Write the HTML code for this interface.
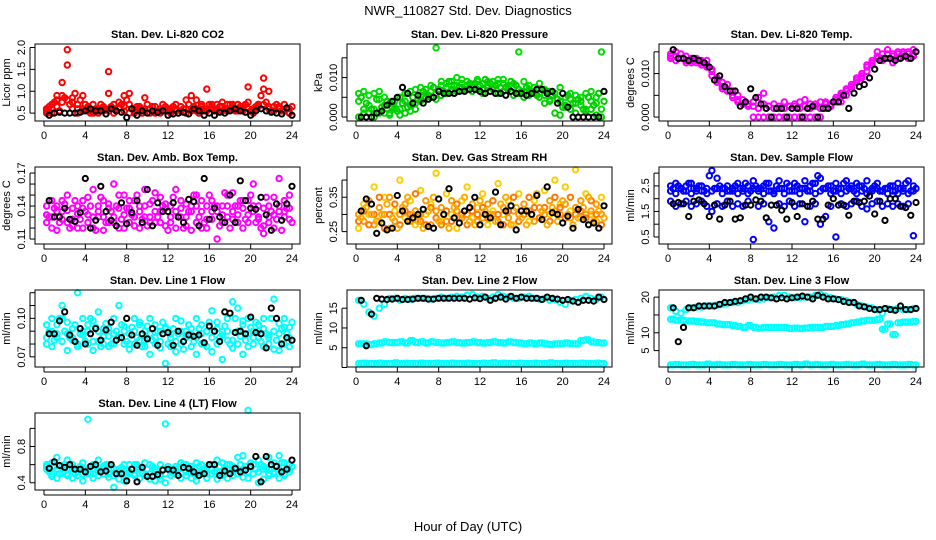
<!DOCTYPE html>
<html><head><meta charset="utf-8"><style>
html,body{margin:0;padding:0;background:#fff;}
svg{display:block;font-family:"Liberation Sans",Arial,sans-serif;}
</style></head><body>
<svg id="chart" width="936" height="540" viewBox="0 0 936 540">
<text x="468" y="15" text-anchor="middle" font-size="13">NWR_110827  Std. Dev. Diagnostics</text>
<text x="468" y="531" text-anchor="middle" font-size="13">Hour of Day (UTC)</text>
</svg>
<script>
const hoursC=[0.25,0.75,1.25,1.75,2.25,2.75,3.25,3.75,4.25,4.75,5.25,5.75,6.25,6.75,7.25,7.75,8.25,8.75,9.25,9.75,10.25,10.75,11.25,11.75,12.25,12.75,13.25,13.75,14.25,14.75,15.25,15.75,16.25,16.75,17.25,17.75,18.25,18.75,19.25,19.75,20.25,20.75,21.25,21.75,22.25,22.75,23.25,23.75];
const hoursB=[0.5,1,1.5,2,2.5,3,3.5,4,4.5,5,5.5,6,6.5,7,7.5,8,8.5,9,9.5,10,10.5,11,11.5,12,12.5,13,13.5,14,14.5,15,15.5,16,16.5,17,17.5,18,18.5,19,19.5,20,20.5,21,21.5,22,22.5,23,23.5,24];
const xTicks=[0,4,8,12,16,20,24];

const co2C1=[0.55,0.6,0.8,0.9,1.95,0.85,0.7,0.6,0.65,0.55,0.6,0.55,1.45,0.7,0.6,0.55,0.95,0.6,0.55,0.6,0.5,0.55,0.6,0.55,0.6,0.55,0.65,0.5,0.6,0.8,0.6,1.05,0.65,0.6,0.55,0.7,0.6,0.6,0.65,1.1,0.6,0.7,1.3,1.0,0.65,0.6,0.55,0.5];
const co2C2=[0.5,0.7,0.9,1.2,1.6,0.75,0.6,0.9,0.55,0.7,0.5,0.6,0.95,0.6,0.75,0.9,0.7,0.5,0.65,0.85,0.6,0.5,0.55,0.65,0.55,0.7,0.55,0.8,0.9,0.55,0.65,0.6,0.7,0.55,0.75,0.6,0.7,0.55,0.6,0.75,0.5,0.7,1.05,0.65,0.55,0.6,0.7,0.6];
const co2C3=[0.6,0.5,0.65,0.75,0.8,0.6,0.5,0.55,0.6,0.5,0.55,0.65,0.55,0.5,0.6,0.65,0.5,0.55,0.6,0.55,0.6,0.65,0.5,0.55,0.5,0.6,0.55,0.6,0.55,0.6,0.7,0.55,0.6,0.7,0.65,0.55,0.65,0.7,0.55,0.6,0.55,0.65,0.7,0.6,0.55,0.65,0.55,0.5];
const co2C4=[0.65,0.75,0.55,0.85,0.7,0.95,0.8,0.7,0.5,0.6,0.7,0.6,0.65,0.55,0.7,0.8,0.6,0.65,0.5,0.7,0.65,0.55,0.7,0.6,0.65,0.5,0.6,0.7,0.65,0.5,0.55,0.7,0.55,0.65,0.6,0.7,0.55,0.65,0.7,0.55,0.65,0.9,0.75,0.55,0.7,0.55,0.6,0.65];
const co2B=[0.45,0.5,0.52,0.5,0.5,0.5,0.52,0.55,0.6,0.55,0.55,0.48,0.6,0.55,0.52,0.4,0.6,0.45,0.55,0.5,0.55,0.52,0.55,0.45,0.48,0.5,0.52,0.48,0.6,0.55,0.45,0.5,0.45,0.52,0.5,0.55,0.6,0.55,0.52,0.45,0.55,0.6,0.55,0.52,0.5,0.48,0.62,0.45];

const presC1=[0.006,0.0065,0.0055,0.006,0.0045,0.005,0.0035,0.004,0.005,0.006,0.0065,0.007,0.0075,0.007,0.008,0.0175,0.009,0.0085,0.009,0.01,0.0095,0.009,0.008,0.0095,0.0085,0.008,0.009,0.0095,0.0085,0.008,0.0085,0.0165,0.009,0.008,0.0075,0.0085,0.007,0.0065,0.006,0.0075,0.005,0.006,0.0055,0.005,0.006,0.0065,0.005,0.0165];
const presC2=[0,0.002,0.001,0,0.001,0.003,0.001,0.002,0.0005,0.001,0.003,0.002,0.004,0.005,0.005,0.006,0.0055,0.006,0.007,0.0065,0.0075,0.007,0.0065,0.007,0.007,0.0075,0.007,0.006,0.0065,0.0075,0.0055,0.006,0.005,0.0055,0.006,0.005,0.0035,0.004,0.001,0.0005,0.003,0.002,0.001,0.004,0.0015,0.002,0.0005,0];
const presC3=[0.004,0.001,0.003,0.002,0.0065,0.001,0.0005,0.0025,0.002,0.004,0.0015,0.0035,0.0055,0.006,0.0065,0.0045,0.008,0.0075,0.0065,0.008,0.0085,0.008,0.0075,0.009,0.006,0.009,0.0075,0.0085,0.0095,0.007,0.0075,0.007,0.0065,0.007,0.0065,0.006,0.0055,0.0045,0.006,0.004,0.0025,0.0045,0.0035,0.003,0.002,0.004,0.0035,0.002];
const presC4=[0.005,0.0035,0.002,0.0045,0.0025,0.004,0.0025,0.0015,0.0035,0.0025,0.005,0.0045,0.0065,0.0055,0.0075,0.007,0.0065,0.009,0.008,0.0075,0.007,0.0085,0.0085,0.008,0.0095,0.0085,0.008,0.0075,0.0075,0.009,0.008,0.0065,0.0075,0.0065,0.0055,0.007,0.0065,0.0055,0.0045,0.0025,0.0055,0.0035,0.0045,0.002,0.005,0.003,0.006,0.004];
const presB=[0,0,0,0.001,0.0015,0.003,0.004,0.005,0.0075,0.006,0.0035,0.0055,0.0035,0.0045,0.005,0.0065,0.006,0.006,0.006,0.0065,0.0065,0.007,0.007,0.0065,0.006,0.0065,0.006,0.006,0.0055,0.0065,0.006,0.006,0.0055,0.006,0.007,0.007,0.006,0.0065,0.0035,0.006,0.0025,0,0,0,0,0,0,0.0065];

const tempC1=[0.0145,0.015,0.0145,0.014,0.0135,0.0135,0.013,0.013,0.011,0.009,0.008,0.0075,0.006,0.005,0.004,0.003,0.0035,0.0045,0.003,0.0025,0.003,0.0025,0.0035,0.0025,0.003,0.0035,0.0025,0.003,0.003,0.0035,0.0035,0.003,0.0045,0.0055,0.0065,0.0075,0.009,0.01,0.012,0.013,0.015,0.0145,0.0155,0.0145,0.015,0.0145,0.015,0.0155];
const tempC2=[0.0135,0.013,0.0135,0.0125,0.013,0.0125,0.012,0.0115,0.0095,0.008,0.0065,0.006,0.005,0.004,0.003,0.0025,0,0,0,0,0,0,0,0,0,0,0,0,0,0,0.002,0.0025,0.0035,0.0035,0.005,0.0065,0.008,0.009,0.0105,0.012,0.0135,0.013,0.0135,0.0125,0.0135,0.014,0.0135,0.014];
const tempC3=[0.014,0.014,0.0135,0.013,0.0125,0.013,0.0125,0.012,0.0105,0.0085,0.007,0.006,0.0045,0.0035,0.003,0.003,0.0025,0.002,0.0055,0.0025,0.002,0.002,0.002,0.0025,0.0025,0.002,0.004,0.002,0.0025,0.002,0.003,0.0025,0.004,0.005,0.006,0.007,0.0085,0.0095,0.0115,0.0125,0.014,0.0135,0.0145,0.014,0.0145,0.015,0.0145,0.0145];
const tempB=[0.0155,0.0135,0.0135,0.013,0.0135,0.013,0.0125,0.0115,0.0085,0.0095,0.007,0.006,0.006,0.0025,0.0035,0.0065,0.0045,0.003,0.002,0,0.002,0.002,0,0.002,0.002,0,0.002,0.0025,0,0.002,0.002,0.0035,0.0035,0.005,0.002,0.0055,0.007,0.0075,0.009,0.011,0.013,0.0135,0.0135,0.013,0.0135,0.014,0.0135,0.015];

const ambC1=[0.125,0.145,0.118,0.135,0.15,0.128,0.14,0.12,0.132,0.155,0.13,0.145,0.125,0.16,0.138,0.12,0.145,0.13,0.14,0.155,0.125,0.135,0.148,0.122,0.14,0.155,0.13,0.142,0.118,0.15,0.135,0.128,0.145,0.11,0.14,0.13,0.152,0.125,0.138,0.145,0.16,0.13,0.122,0.14,0.148,0.165,0.135,0.15];
const ambC2=[0.14,0.12,0.135,0.145,0.125,0.138,0.12,0.145,0.125,0.13,0.14,0.118,0.142,0.13,0.12,0.15,0.125,0.145,0.12,0.13,0.142,0.152,0.125,0.138,0.13,0.12,0.145,0.13,0.14,0.125,0.145,0.12,0.135,0.14,0.125,0.15,0.128,0.14,0.12,0.132,0.135,0.14,0.115,0.13,0.12,0.135,0.145,0.128];
const ambC3=[0.132,0.13,0.14,0.128,0.136,0.122,0.133,0.138,0.148,0.12,0.135,0.13,0.138,0.125,0.15,0.132,0.138,0.122,0.135,0.14,0.13,0.125,0.135,0.142,0.125,0.135,0.138,0.122,0.135,0.14,0.12,0.14,0.128,0.135,0.132,0.14,0.135,0.132,0.145,0.125,0.14,0.128,0.138,0.125,0.132,0.14,0.13,0.138];
const ambC4=[0.13,0.138,0.125,0.142,0.12,0.145,0.128,0.135,0.14,0.118,0.148,0.125,0.135,0.14,0.128,0.138,0.132,0.15,0.128,0.122,0.145,0.13,0.14,0.118,0.148,0.13,0.12,0.135,0.15,0.13,0.125,0.15,0.14,0.122,0.152,0.12,0.14,0.145,0.128,0.15,0.125,0.12,0.148,0.135,0.128,0.118,0.138,0.125];
const ambB=[0.145,0.13,0.13,0.138,0.128,0.126,0.134,0.165,0.12,0.127,0.158,0.135,0.127,0.122,0.143,0.124,0.134,0.145,0.125,0.155,0.122,0.143,0.135,0.135,0.143,0.13,0.125,0.146,0.144,0.122,0.165,0.128,0.138,0.13,0.125,0.15,0.125,0.163,0.145,0.138,0.137,0.148,0.132,0.118,0.142,0.127,0.142,0.158];

const rhC1=[0.26,0.33,0.3,0.38,0.28,0.35,0.26,0.31,0.4,0.29,0.34,0.27,0.37,0.3,0.33,0.42,0.28,0.36,0.3,0.26,0.34,0.38,0.29,0.32,0.36,0.27,0.31,0.39,0.3,0.34,0.27,0.36,0.3,0.28,0.34,0.29,0.37,0.3,0.4,0.33,0.38,0.31,0.43,0.29,0.36,0.3,0.28,0.35];
const rhC2=[0.3,0.28,0.34,0.27,0.32,0.3,0.35,0.28,0.3,0.33,0.28,0.31,0.3,0.34,0.27,0.31,0.32,0.28,0.34,0.31,0.29,0.3,0.33,0.28,0.29,0.33,0.3,0.28,0.32,0.29,0.31,0.3,0.33,0.31,0.28,0.32,0.3,0.34,0.31,0.3,0.33,0.29,0.32,0.34,0.3,0.31,0.33,0.3];
const rhC3=[0.28,0.31,0.27,0.3,0.35,0.26,0.3,0.33,0.27,0.31,0.3,0.36,0.28,0.27,0.32,0.29,0.27,0.31,0.28,0.33,0.3,0.27,0.31,0.3,0.32,0.29,0.34,0.3,0.27,0.31,0.35,0.28,0.3,0.35,0.32,0.29,0.32,0.28,0.35,0.32,0.29,0.35,0.3,0.31,0.29,0.34,0.3,0.27];
const rhC4=[0.29,0.32,0.3,0.28,0.3,0.33,0.29,0.26,0.32,0.35,0.3,0.28,0.26,0.31,0.35,0.28,0.3,0.26,0.32,0.29,0.35,0.28,0.27,0.34,0.31,0.3,0.28,0.33,0.35,0.27,0.32,0.29,0.27,0.3,0.36,0.31,0.27,0.32,0.28,0.34,0.3,0.27,0.29,0.32,0.35,0.28,0.31,0.29];
const rhB=[0.31,0.345,0.33,0.245,0.275,0.255,0.26,0.355,0.31,0.28,0.29,0.3,0.315,0.265,0.26,0.345,0.3,0.375,0.29,0.275,0.31,0.32,0.35,0.27,0.3,0.29,0.365,0.27,0.31,0.325,0.255,0.31,0.31,0.3,0.355,0.285,0.38,0.305,0.3,0.275,0.295,0.26,0.315,0.285,0.27,0.275,0.26,0.325];

const sfC1=[2.5,2.6,2.4,2.5,2.6,2.3,2.5,2.4,3.1,2.8,2.4,2.5,2.3,2.6,2.4,2.5,2.7,2.4,2.5,2.6,2.3,2.7,2.4,2.5,2.6,2.4,2.7,2.5,2.6,2.8,2.4,2.5,2.6,2.4,2.7,2.5,2.6,2.5,2.7,2.4,2.6,2.3,2.4,2.5,2.6,2.4,2.7,2.5];
const sfC2=[2.3,2.2,2.4,2.3,2.2,2.4,2.3,2.2,2.3,2.4,2.2,2.3,2.4,2.2,2.3,2.2,2.4,2.3,2.2,2.3,2.2,2.4,2.2,2.3,2.3,2.2,2.4,2.3,2.2,2.3,2.4,2.2,2.3,2.2,2.3,2.4,2.2,2.3,2.2,2.3,2.4,2.3,2.2,2.3,2.2,2.3,2.2,2.3];
const sfC3=[1.9,1.7,1.8,1.9,1.7,1.8,1.9,1.7,1.5,1.8,1.7,1.9,1.7,1.8,1.7,1.9,0.4,1.7,1.8,1.1,0.85,1.8,1.7,1.9,1.7,1.8,1.1,1.7,1.8,1.0,1.3,1.7,0.5,1.8,1.7,1.8,1.9,1.7,1.6,1.8,1.9,1.7,1.8,1.7,1.8,1.7,1.8,0.55];
const sfC4=[2.4,2.5,2.3,2.6,2.4,2.5,2.3,2.9,2.4,2.5,2.4,2.3,2.5,2.4,2.6,2.3,2.5,2.4,2.6,2.3,2.5,2.4,2.6,2.3,2.5,2.4,2.3,2.6,2.9,2.4,2.5,2.3,2.4,2.6,2.4,2.3,2.5,2.4,2.3,2.5,2.3,2.4,2.5,2.3,2.4,2.6,2.3,2.4];
const sfB=[1.8,1.85,1.8,1.3,1.9,1.95,1.8,1.3,1.75,1.2,1.75,1.9,1.2,1.25,1.75,1.75,1.95,1.9,1.25,1.75,1.75,1.55,1.2,1.85,1.3,1.8,1.7,1.9,1.2,1.2,1.75,2.0,1.75,1.75,1.35,1.9,1.85,1.9,2.1,1.4,1.9,1.15,2.0,2.0,1.7,1.65,1.35,1.85];

const l1C1=[0.095,0.1,0.088,0.11,0.097,0.085,0.12,0.1,0.09,0.098,0.105,0.092,0.086,0.1,0.11,0.094,0.088,0.1,0.097,0.09,0.1,0.095,0.082,0.092,0.085,0.1,0.098,0.09,0.087,0.1,0.095,0.09,0.106,0.097,0.09,0.1,0.113,0.108,0.098,0.1,0.09,0.095,0.1,0.087,0.115,0.096,0.1,0.093];
const l1C2=[0.085,0.09,0.095,0.082,0.088,0.092,0.08,0.087,0.095,0.082,0.09,0.08,0.092,0.088,0.085,0.09,0.08,0.09,0.095,0.083,0.088,0.085,0.09,0.093,0.088,0.082,0.09,0.087,0.092,0.085,0.088,0.09,0.085,0.092,0.087,0.09,0.083,0.09,0.095,0.088,0.085,0.09,0.092,0.085,0.09,0.088,0.093,0.085];
const l1C3=[0.08,0.078,0.085,0.1,0.075,0.083,0.078,0.09,0.08,0.075,0.082,0.086,0.078,0.08,0.085,0.08,0.076,0.08,0.083,0.078,0.072,0.08,0.077,0.065,0.078,0.074,0.08,0.085,0.078,0.072,0.08,0.078,0.074,0.08,0.068,0.083,0.077,0.08,0.072,0.078,0.08,0.085,0.078,0.08,0.076,0.075,0.08,0.078];
const l1C4=[0.09,0.083,0.1,0.09,0.085,0.095,0.088,0.082,0.1,0.093,0.078,0.096,0.08,0.09,0.095,0.082,0.093,0.085,0.078,0.094,0.083,0.09,0.097,0.08,0.092,0.088,0.076,0.095,0.082,0.092,0.08,0.097,0.09,0.085,0.094,0.08,0.1,0.086,0.083,0.093,0.097,0.082,0.088,0.1,0.083,0.092,0.088,0.097];
const l1B=[0.088,0.088,0.098,0.105,0.087,0.082,0.092,0.08,0.088,0.092,0.083,0.091,0.097,0.083,0.085,0.1,0.087,0.079,0.088,0.084,0.092,0.079,0.088,0.089,0.079,0.09,0.082,0.087,0.086,0.087,0.081,0.094,0.09,0.082,0.105,0.104,0.089,0.09,0.088,0.101,0.089,0.088,0.077,0.108,0.1,0.08,0.085,0.083];

const l2C1=[17,16,14,13,15,16,17.5,17.5,17,17.5,17.3,17.5,17.5,17.5,17.3,17.5,17.8,17.5,17.8,18,17.8,18.3,18.5,17.8,18,17.5,17.8,18.5,18,17.8,17.5,17.5,17.8,18,17.5,17.3,17.5,17,17.2,16.5,16,17,17.2,17.5,18,17.5,17.2,17.8];
const l2C2=[6,6,5.8,6,6.2,6.5,6.3,6.3,6.5,6.2,6.8,6.3,6.5,6.2,6.5,6.3,6.2,6.3,6.5,6.3,6.2,6.3,6.5,6.3,6.2,6.3,6.5,6.3,6.2,6.5,6.3,6.2,6,6.2,6,6.2,6,5.8,6,6,6.2,6,6,6.8,7,6.5,6.3,6.2];
const l2C3=[1,1.1,1,1,1.1,1,1,1.2,1,1.1,1,1,1.1,1,1,1.1,1,1,1.1,1,1,1.1,1,1,1.1,1,1.2,1,1.1,1,1,1.1,1,1,1.1,1,1,1.2,1,1,1.1,1,1,1.1,1,1,1.1,1];
const l2B=[17,5.5,13.5,17.5,17.3,17.2,17.3,17.5,17.2,17.2,17.3,17.5,17.5,17.3,17.3,17.5,17.5,17.5,17.5,17.5,17.5,17.3,17.6,17.4,17.8,17,17.5,17.8,17.3,18,17.5,17.8,17.5,17.5,17.5,17.2,17.8,17.5,17.3,17,17.2,16.8,16.5,17,17,16.8,17.8,17.2];

const l3C1=[17,16,15.5,16.5,17,17.2,17.2,17.5,17.5,17.8,18,18.3,18.5,18.5,19,19.2,19.5,19.3,19.5,19.8,20,20.5,20.5,20,19.8,19.8,20,20,20.5,20.8,20.3,19.8,19.5,19.3,19,18.5,18,17.5,17.2,17,16.5,15.5,16.8,16.5,16.8,16.5,16.5,16.8];
const l3C2=[13.8,13.5,13.5,13.3,13.3,13.2,13,12.8,12.8,12.5,12.3,12.3,12,11.8,11.5,12,11.5,11.3,11.5,11.5,11.5,11.5,11.5,11.2,11.3,11.2,11.3,11.5,11.5,11.5,11.8,11.8,12,12.3,12.5,12.8,13,13.3,13.5,13.5,13.8,11,12.5,9.5,12.8,13,13,13.2];
const l3C3=[1,1.1,1,1,1.1,1,1,1.2,1,1.1,1,1,1.1,1,1,1.1,1,1,1.1,1,1,1.1,1,1,1.1,1,1.2,1,1.1,1,1,1.1,1,1,1.1,1,1,1.2,1,1,1.1,1,1,1.1,1,1,1.1,1];
const l3B=[17,7.5,11.5,17,17,17.5,17.5,17.5,17.5,18,18.5,18.5,18.8,19,19.5,20,19.5,20,20,19.8,19.5,19.8,19.5,19.8,20,20.3,20,19.5,20.5,20,19.5,19.5,19.3,18.8,18.5,18.5,17.5,17.3,16.8,16.5,16.5,16.8,16.5,16.3,17.5,16.5,16.5,16.8];

const l4C1=[0.6,0.62,0.68,0.58,0.65,0.6,0.55,0.62,1.1,0.6,0.65,0.58,0.6,0.55,0.52,0.6,0.6,0.6,0.57,0.62,0.6,0.55,0.6,1.05,0.55,0.58,0.62,0.6,0.58,0.62,0.6,0.56,0.6,0.65,0.62,0.6,0.58,0.68,0.7,1.2,0.6,0.65,0.58,0.68,0.62,0.7,0.62,0.6];
const l4C2=[0.55,0.5,0.55,0.52,0.5,0.55,0.52,0.5,0.55,0.5,0.52,0.55,0.5,0.48,0.55,0.5,0.52,0.5,0.55,0.48,0.5,0.52,0.48,0.5,0.52,0.55,0.5,0.52,0.55,0.5,0.52,0.5,0.55,0.52,0.5,0.55,0.52,0.5,0.55,0.52,0.5,0.52,0.55,0.5,0.52,0.55,0.5,0.52];
const l4C3=[0.58,0.47,0.45,0.5,0.48,0.45,0.48,0.42,0.5,0.45,0.48,0.5,0.46,0.35,0.44,0.42,0.5,0.48,0.45,0.48,0.44,0.42,0.44,0.4,0.48,0.5,0.45,0.48,0.45,0.42,0.5,0.45,0.5,0.44,0.48,0.45,0.48,0.5,0.46,0.45,0.5,0.4,0.44,0.48,0.5,0.45,0.48,0.55];
const l4C4=[0.52,0.58,0.5,0.6,0.55,0.5,0.58,0.55,0.5,0.58,0.53,0.6,0.55,0.5,0.57,0.53,0.55,0.6,0.5,0.55,0.58,0.5,0.55,0.58,0.5,0.56,0.6,0.55,0.5,0.58,0.55,0.6,0.52,0.58,0.55,0.6,0.55,0.6,0.58,0.62,0.55,0.6,0.55,0.6,0.58,0.62,0.55,0.58];
const l4B=[0.56,0.63,0.59,0.57,0.6,0.55,0.55,0.52,0.58,0.6,0.52,0.53,0.6,0.5,0.5,0.42,0.55,0.41,0.57,0.47,0.47,0.49,0.54,0.55,0.54,0.48,0.57,0.56,0.52,0.48,0.5,0.6,0.6,0.48,0.53,0.5,0.56,0.52,0.54,0.58,0.69,0.41,0.69,0.6,0.58,0.52,0.55,0.65];

const panels=[
 {name:'co2',title:'Stan. Dev. Li-820 CO2',ylab:'Licor ppm',col:0,row:0,lo:0.32,hi:2.08,ticks:[0.5,1.0,1.5,2.0],labels:['0.5','1.0','1.5','2.0'],series:[[hoursC,co2C1,'#ff0000'],[hoursC,co2C2,'#ff0000'],[hoursC,co2C3,'#ff0000'],[hoursB,co2C4,'#ff0000']],black:co2B},
 {name:'pressure',title:'Stan. Dev. Li-820 Pressure',ylab:'kPa',col:1,row:0,lo:-0.001,hi:0.0185,ticks:[0,0.005,0.01,0.015],labels:['0.000','','0.010',''],series:[[hoursC,presC1,'#00dd00'],[hoursC,presC2,'#00cc00'],[hoursC,presC3,'#00dd00'],[hoursB,presC4,'#00cc00']],black:presB},
 {name:'temp',title:'Stan. Dev. Li-820 Temp.',ylab:'degrees C',col:2,row:0,lo:-0.0009,hi:0.0168,ticks:[0,0.005,0.01,0.015],labels:['0.000','','0.010',''],series:[[hoursC,tempC1,'#ff00ff'],[hoursC,tempC2,'#ff00ff'],[hoursC,tempC3,'#ff00ff']],black:tempB},
 {name:'amb-box-temp',title:'Stan. Dev. Amb. Box Temp.',ylab:'degrees C',col:0,row:1,lo:0.1055,hi:0.1755,ticks:[0.11,0.12,0.13,0.14,0.15,0.16,0.17],labels:['0.11','','','0.14','','','0.17'],series:[[hoursC,ambC1,'#ff00ff'],[hoursC,ambC2,'#ff00ff'],[hoursC,ambC3,'#ff00ff'],[hoursB,ambC4,'#ff00ff']],black:ambB},
 {name:'gas-rh',title:'Stan. Dev. Gas Stream RH',ylab:'percent',col:1,row:1,lo:0.214,hi:0.438,ticks:[0.25,0.3,0.35,0.4],labels:['0.25','','0.35',''],series:[[hoursC,rhC1,'#ffcc00'],[hoursC,rhC2,'#ff9900'],[hoursC,rhC3,'#ff7700'],[hoursB,rhC4,'#ffaa00']],black:rhB},
 {name:'sample-flow',title:'Stan. Dev. Sample Flow',ylab:'ml/min',col:2,row:1,lo:0.225,hi:3.24,ticks:[0.5,1,1.5,2,2.5,3],labels:['0.5','','1.5','','2.5',''],series:[[hoursC,sfC1,'#0000ff'],[hoursC,sfC2,'#0000ff'],[hoursC,sfC3,'#0000ff'],[hoursB,sfC4,'#0000ff']],black:sfB},
 {name:'line1-flow',title:'Stan. Dev. Line 1 Flow',ylab:'ml/min',col:0,row:2,lo:0.0621,hi:0.1221,ticks:[0.07,0.08,0.09,0.1,0.11,0.12],labels:['0.07','','','0.10','',''],series:[[hoursC,l1C1,'#00ffff'],[hoursC,l1C2,'#00ffff'],[hoursC,l1C3,'#00ffff'],[hoursB,l1C4,'#00ffff']],black:l1B},
 {name:'line2-flow',title:'Stan. Dev. Line 2 Flow',ylab:'ml/min',col:1,row:2,lo:0.13,hi:19.6,ticks:[0,5,10,15],labels:['','5','10','15'],series:[[hoursC,l2C1,'#00ffff'],[hoursC,l2C2,'#00ffff'],[hoursC,l2C3,'#00ffff'],[hoursB,l2C3,'#00ffff'],[hoursB,l2C2,'#00ffff']],black:l2B},
 {name:'line3-flow',title:'Stan. Dev. Line 3 Flow',ylab:'ml/min',col:2,row:2,lo:0.4,hi:22,ticks:[5,10,15,20],labels:['5','10','','20'],series:[[hoursC,l3C1,'#00ffff'],[hoursC,l3C2,'#00ffff'],[hoursC,l3C3,'#00ffff'],[hoursB,l3C3,'#00ffff'],[hoursB,l3C2,'#00ffff']],black:l3B},
 {name:'line4-flow',title:'Stan. Dev. Line 4 (LT) Flow',ylab:'ml/min',col:0,row:3,lo:0.32,hi:1.17,ticks:[0.4,0.6,0.8,1.0],labels:['0.4','','0.8',''],series:[[hoursC,l4C1,'#00ffff'],[hoursC,l4C2,'#00ffff'],[hoursC,l4C3,'#00ffff'],[hoursB,l4C4,'#00ffff']],black:l4B}
];

const NS='http://www.w3.org/2000/svg';
const svg=document.getElementById('chart');
function mk(tag,attrs,parent){const e=document.createElementNS(NS,tag);for(const k in attrs)e.setAttribute(k,attrs[k]);parent.appendChild(e);return e;}
const rowTops=[44,167,290,413];
panels.forEach(p=>{
  const left=p.col*312+35, right=p.col*312+300, top=rowTops[p.row], bottom=top+77;
  const xs=h=>left+9+(h/24)*248;
  const ys=v=>bottom-(v-p.lo)/(p.hi-p.lo)*(bottom-top);
  const g=mk('g',{},svg);
  
  
  const t=mk('text',{x:(left+right)/2,y:top-6,'text-anchor':'middle','font-size':11,'font-weight':'bold'},g);
  t.textContent=p.title;
  
  
  const yl=mk('text',{x:0,y:0,'text-anchor':'middle','font-size':11,transform:`translate(${left-25},${(top+bottom)/2}) rotate(-90)`},g);
  yl.textContent=p.ylab;
  
  
  const marks=mk('g',{fill:'none','stroke-width':2},g);
  
  
  p.series.forEach(([hx,arr,col])=>{
    arr.forEach((v,i)=>{
      const c=mk('circle',{cx:xs(hx[i]).toFixed(1),cy:ys(v).toFixed(1),r:2.7,stroke:col},marks);
      
      
    });
  });
  p.black.forEach((v,i)=>{
    const c=mk('circle',{cx:xs(hoursB[i]).toFixed(1),cy:ys(v).toFixed(1),r:2.6,stroke:'#000'},marks);
    
    
  });
  const box=mk('rect',{x:left,y:top,width:right-left,height:bottom-top,fill:'none',stroke:'#000','stroke-width':1},g);
  
  
  xTicks.forEach(h=>{
    const x=xs(h);
    mk('line',{x1:x,y1:bottom,x2:x,y2:bottom+5,stroke:'#000'},g);
    const tl=mk('text',{x:x,y:bottom+18,'text-anchor':'middle','font-size':11},g);
    tl.textContent=h;
    
    
  });
  mk('line',{x1:xs(0),y1:bottom+5,x2:xs(24),y2:bottom+5,stroke:'#000'},g);
  p.ticks.forEach((v,i)=>{
    const y=ys(v);
    mk('line',{x1:left,y1:y,x2:left-5,y2:y,stroke:'#000'},g);
    if(p.labels[i]){
      const tl=mk('text',{x:0,y:0,'text-anchor':'middle','font-size':11,transform:`translate(${left-10},${y}) rotate(-90)`},g);
      tl.textContent=p.labels[i];
      
      
    }
  });
  mk('line',{x1:left-5,y1:ys(p.ticks[0]),x2:left-5,y2:ys(p.ticks[p.ticks.length-1]),stroke:'#000'},g);
});
</script>
</body></html>
